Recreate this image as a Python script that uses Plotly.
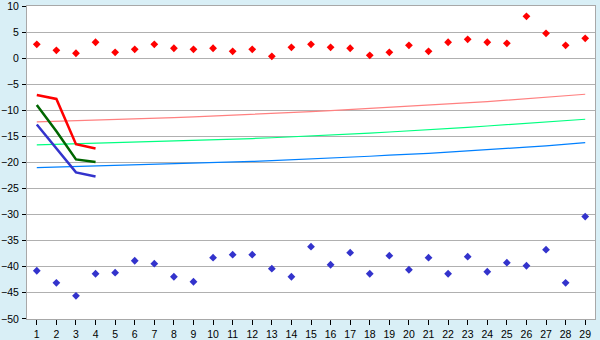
import plotly.graph_objects as go

x_cats = list(range(1, 30))
y_ticks = [-50, -45, -40, -35, -30, -25, -20, -15, -10, -5, 0, 5, 10]

red_points = [2.68, 1.53, 0.96, 3.07, 1.15, 1.72, 2.68, 1.92, 1.72, 1.92,
              1.34, 1.72, 0.38, 2.10, 2.68, 2.10, 1.92, 0.57, 1.15, 2.49,
              1.34, 3.07, 3.64, 3.07, 2.87, 8.05, 4.79, 2.49, 3.83]
blue_points = [-40.77, -43.08, -45.58, -41.35, -41.15, -38.85, -39.42, -41.92, -42.88, -38.27,
               -37.69, -37.69, -40.38, -41.92, -36.15, -39.62, -37.31, -41.35, -37.88, -40.58,
               -38.27, -41.35, -38.08, -40.96, -39.23, -39.81, -36.73, -43.08, -30.38]

short_x = [1, 2, 3, 4]
red_line = [-7.03, -7.8, -16.5, -17.3]
green_line = [-8.95, -14.0, -19.4, -19.9]
blue_line = [-12.7, -17.3, -21.9, -22.7]

pink_trend = [-12.2, -12.1, -12.0, -11.9, -11.75, -11.65, -11.5, -11.4, -11.25, -11.1,
              -10.95, -10.8, -10.6, -10.45, -10.25, -10.05, -9.85, -9.65, -9.45, -9.25,
              -9.0, -8.8, -8.55, -8.3, -8.05, -7.75, -7.5, -7.2, -6.9]
green_trend = [-16.6, -16.5, -16.4, -16.3, -16.2, -16.1, -16.0, -15.9, -15.8, -15.7,
               -15.55, -15.4, -15.25, -15.1, -14.9, -14.75, -14.55, -14.35, -14.15, -13.95,
               -13.75, -13.5, -13.25, -13.0, -12.75, -12.5, -12.25, -12.0, -11.7]
blue_trend = [-21.0, -20.9, -20.8, -20.7, -20.6, -20.5, -20.4, -20.3, -20.2, -20.1,
              -19.95, -19.8, -19.65, -19.5, -19.35, -19.2, -19.0, -18.8, -18.6, -18.45,
              -18.25, -18.0, -17.8, -17.55, -17.3, -17.05, -16.8, -16.5, -16.2]

fig = go.Figure()

for ys, col in [(pink_trend, "#ff8080"), (green_trend, "#00ff80"), (blue_trend, "#0080ff")]:
    fig.add_trace(go.Scatter(x=x_cats, y=ys, mode="lines",
                             line=dict(color=col, width=1.2), showlegend=False))

for ys, col in [(red_line, "#ff0000"), (green_line, "#006600"), (blue_line, "#3333cc")]:
    fig.add_trace(go.Scatter(x=short_x, y=ys, mode="lines",
                             line=dict(color=col, width=2.5), showlegend=False))

fig.add_trace(go.Scatter(x=x_cats, y=red_points, mode="markers",
                         marker=dict(symbol="diamond", size=6, color="#ff0000"),
                         showlegend=False))
fig.add_trace(go.Scatter(x=x_cats, y=blue_points, mode="markers",
                         marker=dict(symbol="diamond", size=6, color="#3333cc"),
                         showlegend=False))

fig.update_layout(
    width=600, height=340,
    margin=dict(l=27, r=5, t=6, b=21, autoexpand=False),
    paper_bgcolor="#d9eff6",
    plot_bgcolor="#ffffff",
    font=dict(family="Liberation Sans", size=10.5, color="#000000"),
)
fig.update_xaxes(range=[0.5, 29.5], tickmode="array", tickvals=x_cats,
                 ticktext=[str(v) for v in x_cats], automargin=False,
                 showgrid=False, zeroline=False,
                 showline=True, linecolor="#a8a8a8", linewidth=1, mirror=True,
                 ticks="outside", ticklen=5, tickcolor="#000000", ticklabelstandoff=0)
fig.update_yaxes(range=[-50.03, 10.03], tickmode="array", tickvals=y_ticks,
                 ticktext=[("\u2212" + str(-v)) if v < 0 else str(v) for v in y_ticks],
                 automargin=False, ticklabeloverflow="allow",
                 showgrid=True, gridcolor="#b0b0b0", gridwidth=1, zeroline=False,
                 showline=True, linecolor="#a8a8a8", linewidth=1, mirror=True,
                 ticks="outside", ticklen=4, tickcolor="#000000", ticklabelstandoff=1)

fig.write_html("out.html")
